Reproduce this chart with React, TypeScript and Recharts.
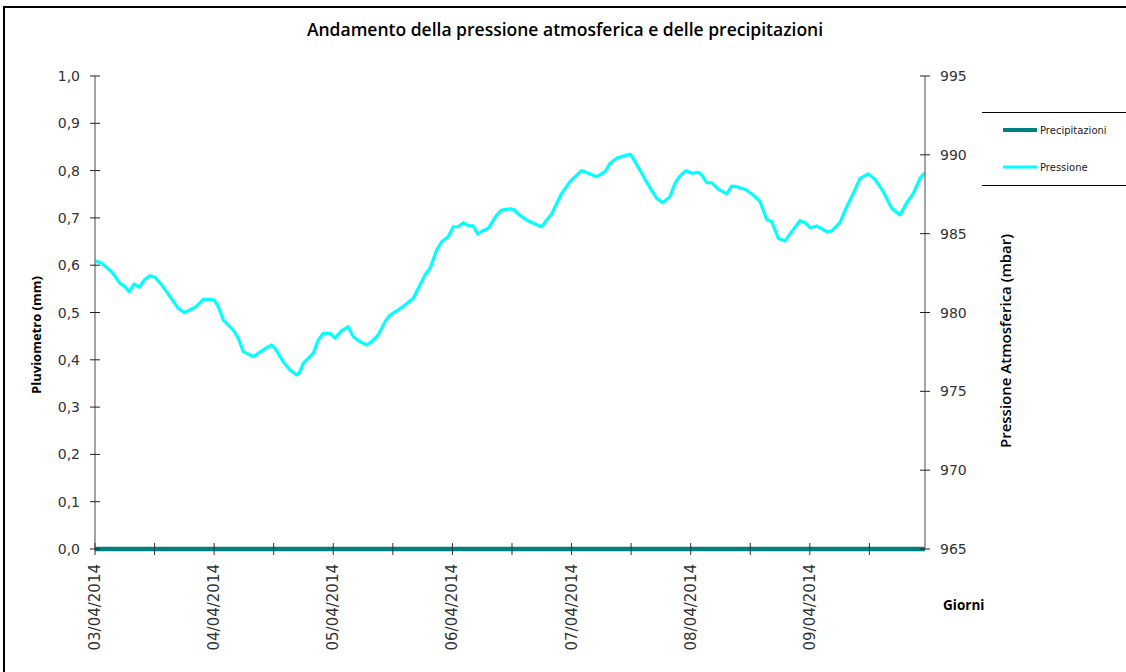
import React from "react";
import { ComposedChart, Line, XAxis, YAxis, Legend } from "recharts";

const dayLabels = ["03/04/2014", "04/04/2014", "05/04/2014", "06/04/2014", "07/04/2014", "08/04/2014", "09/04/2014"];

// hours since 03/04/2014 00:00
const hours = [
  0, 1.35, 3.36, 5.04, 6.04, 6.91, 7.92, 8.92, 10.07, 11.08, 12.09, 13.44, 15.11, 16.78, 17.99, 19.14, 20.35, 21.82, 23.97,
  24.84, 25.85, 27.86, 28.87, 29.87, 31.89, 33.9, 35.6, 36.26, 37.93, 39.28, 40.63, 41.29, 41.96, 42.63, 43.31, 43.98, 44.98,
  45.99, 47.34, 48.35, 49.7, 51.03, 52.03, 53.38, 54.73, 55.74, 57.07, 58.42, 59.43, 61.1, 62.45, 64.12, 65.13, 66.48, 67.49,
  68.84, 69.84, 71.17, 72.18, 73.19, 74.19, 75.2, 76.21, 77.1, 78.1, 79.23, 80.92, 81.93, 83.6, 84.27, 85.48, 86.97, 88.3,
  89.99, 91.0, 92.0, 93.01, 94.02, 95.69, 97.04, 98.05, 99.38, 101.07, 102.74, 103.75, 105.1, 106.77, 107.92, 108.78, 110.13,
  111.46, 113.15, 114.36, 115.83, 116.84, 117.85, 119.06, 120.21, 121.54, 122.22, 123.23, 124.23, 125.56, 127.26, 128.26,
  129.27, 130.94, 132.61, 133.96, 135.31, 136.32, 137.65, 139.0, 140.35, 142.02, 143.03, 144.04, 145.39, 147.4, 148.41,
  150.08, 151.43, 152.76, 154.11, 155.78, 157.13, 158.8, 160.49, 162.16, 163.52, 164.85, 166.19, 167.2,
];

// Pressione atmosferica (mbar)
const pressure = [
  983.29, 983.12, 982.59, 981.85, 981.64, 981.32, 981.81, 981.6, 982.11, 982.32, 982.24, 981.75, 981.01, 980.27, 979.99, 980.16,
  980.37, 980.84, 980.8, 980.37, 979.53, 978.89, 978.37, 977.52, 977.2, 977.63, 977.94, 977.73, 976.88, 976.35, 976.04, 976.25,
  976.78, 977.0, 977.2, 977.42, 978.26, 978.68, 978.68, 978.37, 978.85, 979.1, 978.47, 978.15, 977.94, 978.15, 978.58, 979.42,
  979.84, 980.16, 980.48, 980.9, 981.54, 982.38, 982.81, 983.97, 984.49, 984.81, 985.44, 985.44, 985.7, 985.51, 985.49, 984.98,
  985.19, 985.34, 986.19, 986.5, 986.57, 986.55, 986.19, 985.87, 985.66, 985.44, 985.87, 986.25, 986.93, 987.56, 988.3, 988.72,
  989.0, 988.83, 988.61, 988.93, 989.46, 989.78, 989.95, 990.03, 989.57, 988.83, 988.09, 987.24, 986.97, 987.35, 988.2, 988.66,
  989.0, 988.83, 988.89, 988.72, 988.23, 988.23, 987.82, 987.52, 988.02, 987.98, 987.82, 987.45, 987.03, 985.91, 985.76, 984.71,
  984.54, 985.13, 985.82, 985.7, 985.38, 985.49, 985.13, 985.17, 985.72, 986.71, 987.56, 988.51, 988.79, 988.45, 987.66, 986.61,
  986.19, 986.97, 987.56, 988.51, 988.87,
];

// Precipitazioni (mm)
const rainHours = [0, 24, 48, 72, 96, 120, 144, 167.2];
const rainMm = [0, 0, 0, 0, 0, 0, 0, 0];

const leftTicks = [0, 0.1, 0.2, 0.3, 0.4, 0.5, 0.6, 0.7, 0.8, 0.9, 1.0];
const rightTicks = [965, 970, 975, 980, 985, 990, 995];
const xTicks = [0, 12, 24, 36, 48, 60, 72, 84, 96, 108, 120, 132, 144, 156];

const pressureData = hours.map((h, i) => ({ h, p: pressure[i] }));
const rainData = rainHours.map((h, i) => ({ h, r: rainMm[i] }));

const TEAL = "#008080";
const CYAN = "#00FFFF";
const TICK_FONT = "'DejaVu Sans', sans-serif";
const TITLE_FONT = "'Open Sans', sans-serif";

const XTick = (props: any) => {
  const { x, y, payload } = props;
  const v = payload.value;
  const showLabel = v % 24 === 0;
  return (
    <g>
      <line x1={x} x2={x} y1={y - 6} y2={y + 6} stroke="#333" strokeWidth={1} />
      {showLabel && (
        <text
          transform={`translate(${x + 5},${y + 15}) rotate(-90)`}
          textAnchor="end"
          fontFamily={TICK_FONT}
          fontSize={15}
          fill="#333"
        >
          {dayLabels[v / 24]}
        </text>
      )}
    </g>
  );
};

const LeftTick = (props: any) => {
  const { x, y, payload } = props;
  return (
    <g>
      <line x1={x - 5} x2={x + 5} y1={y} y2={y} stroke="#222" strokeWidth={1} />
      <text x={x - 15} y={y} dy="0.36em" textAnchor="end" fontFamily={TICK_FONT} fontSize={14} fill="#333">
        {payload.value.toFixed(1).replace(".", ",")}
      </text>
    </g>
  );
};

const RightTick = (props: any) => {
  const { x, y, payload } = props;
  return (
    <g>
      <line x1={x - 5} x2={x + 5} y1={y} y2={y} stroke="#222" strokeWidth={1} />
      <text x={x + 15} y={y} dy="0.36em" textAnchor="start" fontFamily={TICK_FONT} fontSize={14} fill="#333">
        {payload.value}
      </text>
    </g>
  );
};

const LegendBox = () => (
  <div
    style={{
      width: 144,
      height: 74,
      borderTop: "1px solid #000",
      borderBottom: "1px solid #000",
      boxSizing: "border-box",
      position: "relative",
    }}
  >
    <svg width={144} height={72} style={{ position: "absolute", left: 0, top: 0 }}>
      <line x1={21} x2={55} y1={17} y2={17} stroke={TEAL} strokeWidth={4} />
      <text x={58} y={17} dy="0.35em" fontFamily={TICK_FONT} fontSize={10} fill="#222">
        Precipitazioni
      </text>
      <line x1={21} x2={55} y1={54} y2={54} stroke={CYAN} strokeWidth={3} />
      <text x={58} y={54} dy="0.35em" fontFamily={TICK_FONT} fontSize={10} fill="#222">
        Pressione
      </text>
    </svg>
  </div>
);

export default function App() {
  return (
    <div
      style={{
        position: "absolute",
        left: 0,
        top: 0,
        width: 1126,
        height: 672,
        overflow: "hidden",
        background: "#fff",
      }}
    >
      <div
        style={{
          position: "absolute",
          left: 3,
          top: 6,
          width: 1200,
          height: 800,
          border: "2px solid #000",
        }}
      />
      <div style={{ position: "absolute", left: 0, top: 0 }}>
        <ComposedChart
          width={1126}
          height={672}
          data={pressureData}
          margin={{ top: 76, right: 141, bottom: 63, left: 35 }}
        >
          <XAxis
            dataKey="h"
            type="number"
            domain={[0, 167.2]}
            ticks={xTicks}
            interval={0}
            height={60}
            tickSize={0}
            tickMargin={0}
            tickLine={false}
            axisLine={false}
            tick={<XTick />}
          />
          <YAxis
            yAxisId="left"
            orientation="left"
            domain={[0, 1]}
            ticks={leftTicks}
            interval={0}
            width={60}
            tickSize={0}
            tickMargin={0}
            tickLine={false}
            axisLine={{ stroke: "#868686", strokeWidth: 1.5 }}
            tick={<LeftTick />}
          />
          <YAxis
            yAxisId="right"
            orientation="right"
            domain={[965, 995]}
            ticks={rightTicks}
            interval={0}
            width={60}
            tickSize={0}
            tickMargin={0}
            tickLine={false}
            axisLine={{ stroke: "#868686", strokeWidth: 1.5 }}
            tick={<RightTick />}
          />
          <Legend
            layout="horizontal"
            verticalAlign="middle"
            align="center"
            wrapperStyle={{ position: "absolute", left: 982, top: 112, width: 144, height: 74 }}
            content={() => <LegendBox />}
          />
          <Line
            yAxisId="right"
            type="linear"
            dataKey="p"
            name="Pressione"
            stroke={CYAN}
            strokeWidth={3.2}
            strokeLinejoin="round"
            dot={false}
            activeDot={false}
            isAnimationActive={false}
          />
          <Line
            yAxisId="left"
            type="linear"
            data={rainData}
            dataKey="r"
            name="Precipitazioni"
            stroke={TEAL}
            strokeWidth={4.5}
            dot={false}
            activeDot={false}
            isAnimationActive={false}
          />
        </ComposedChart>
      </div>
      <svg width={1126} height={672} style={{ position: "absolute", left: 0, top: 0, pointerEvents: "none" }}>
        <text x={565} y={36} textAnchor="middle" fontFamily={TITLE_FONT} fontWeight={600} fontSize={17.5} fill="#000">
          Andamento della pressione atmosferica e delle precipitazioni
        </text>
        <text
          transform="translate(41,335) rotate(-90)"
          textAnchor="middle"
          fontFamily={TITLE_FONT}
          fontWeight={700}
          fontSize={13}
          fill="#000"
        >
          Pluviometro (mm)
        </text>
        <text
          transform="translate(1011,341) rotate(-90)"
          textAnchor="middle"
          fontFamily={TITLE_FONT}
          fontWeight={600}
          fontSize={15}
          fill="#000"
        >
          Pressione Atmosferica (mbar)
        </text>
        <text x={943} y={610} fontFamily={TITLE_FONT} fontWeight={700} fontSize={13.5} fill="#000">
          Giorni
        </text>
      </svg>
    </div>
  );
}
